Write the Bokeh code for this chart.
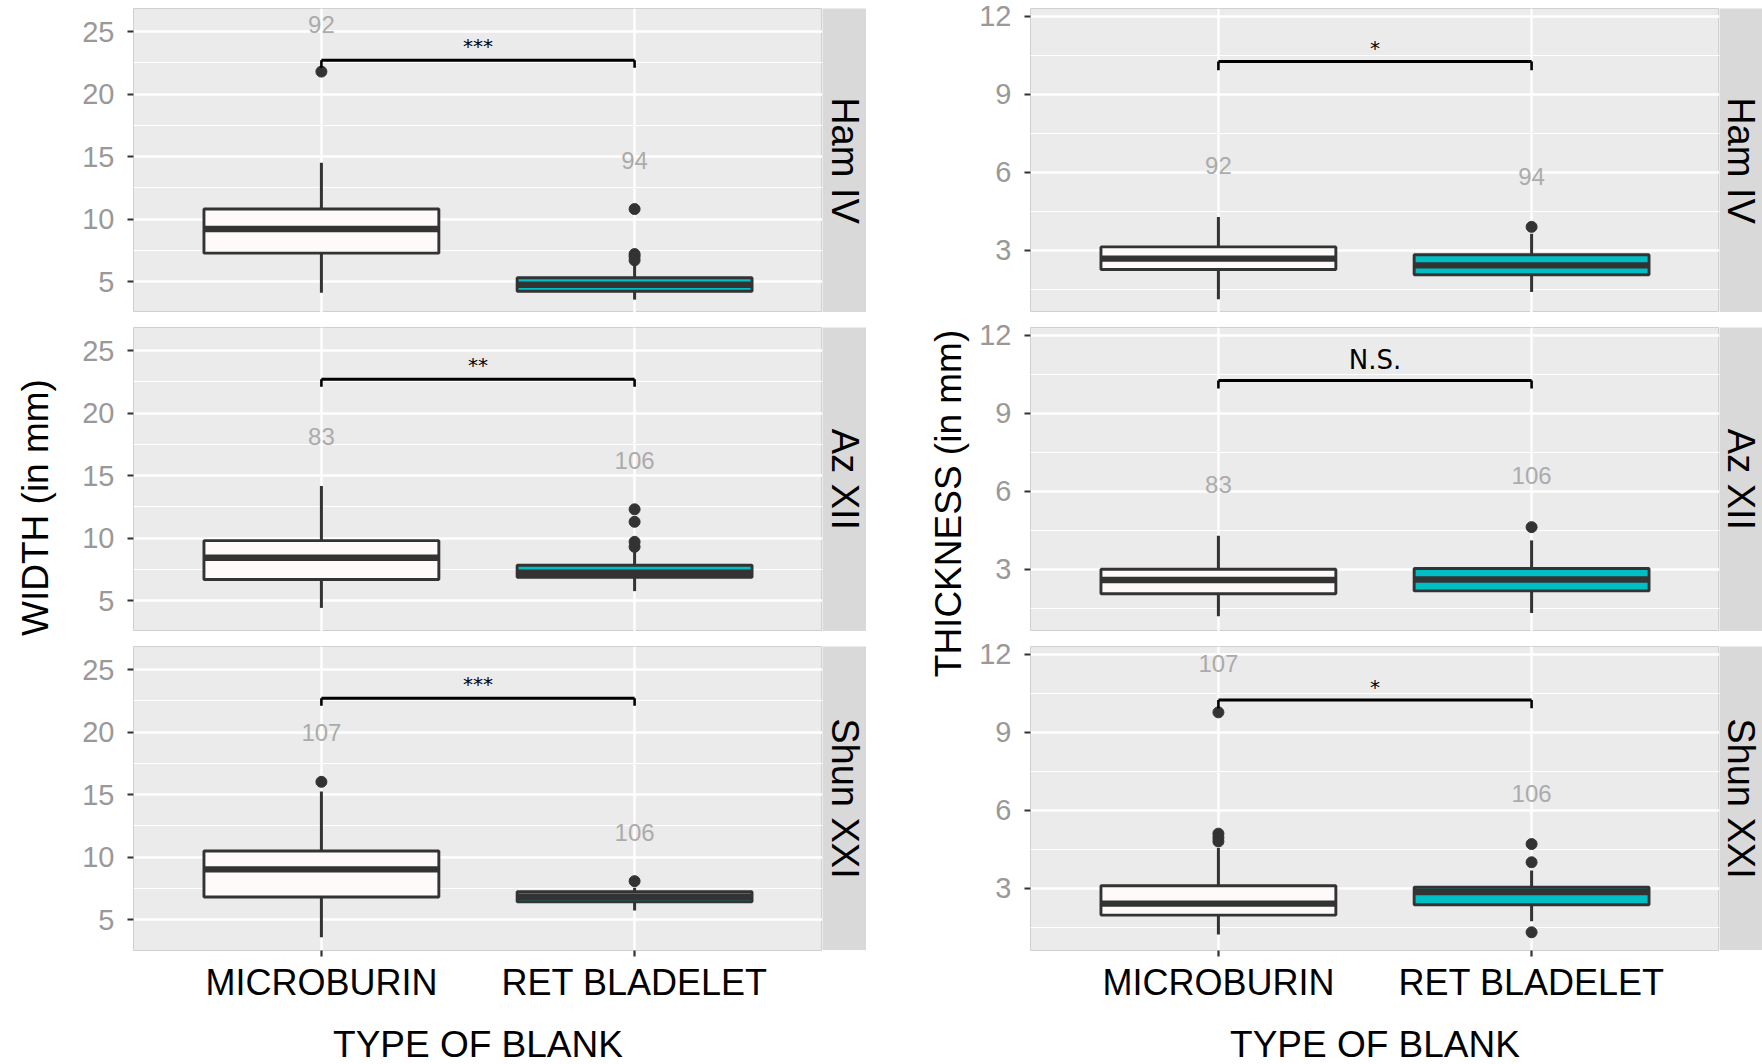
from math import pi
from bokeh.plotting import figure
from bokeh.models import ColumnDataSource, Range1d, FactorRange, FixedTicker, Label
from bokeh.transform import dodge
from bokeh.layouts import row, column
from bokeh.core.properties import value
from bokeh.embed import file_html
from bokeh.resources import INLINE

CATEGORIES = ["MICROBURIN", "RET BLADELET"]
SITES = ["Ham IV", "Az XII", "Shun XXI"]
FILLS = ["#FFFAFA", "#00BFC4"]

# ---- WIDTH (in mm) ----
W_LOWER = [[4.10, 3.55], [4.41, 5.75], [3.58, 5.72]]
W_Q1 = [[7.27, 4.22], [6.68, 6.86], [6.80, 6.42]]
W_MEDIAN = [[9.20, 4.74], [8.42, 7.22], [9.01, 6.80]]
W_Q3 = [[10.80, 5.30], [9.79, 7.82], [10.48, 7.22]]
W_UPPER = [[14.50, 6.40], [14.17, 8.90], [15.24, 7.54]]
W_OUTLIERS = [[[21.8], [10.8, 7.2, 7.0, 6.7]],
              [[], [12.3, 11.3, 9.7, 9.3]],
              [[16.02], [8.07]]]
W_N = [[92, 94], [83, 106], [107, 106]]
W_N_Y = [[25.6, 14.7], [18.1, 16.2], [19.94, 11.94]]
W_SIGNIF = ["***", "**", "***"]
W_BRACKET = [22.7, 22.7, 22.7]
W_BRACKET_END = [22.1, 22.1, 22.1]
W_SIGNIF_Y = [23.85, 23.85, 23.85]
W_TICKS = [5, 10, 15, 20, 25]
W_MINOR = [7.5, 12.5, 17.5, 22.5]
W_RANGE = (2.52, 26.85)

# ---- THICKNESS (in mm) ----
T_LOWER = [[1.12, 1.40], [1.20, 1.32], [1.22, 1.73]]
T_Q1 = [[2.26, 2.06], [2.06, 2.17], [1.97, 2.37]]
T_MEDIAN = [[2.68, 2.42], [2.59, 2.61], [2.41, 2.86]]
T_Q3 = [[3.13, 2.83], [3.00, 3.03], [3.10, 3.04]]
T_UPPER = [[4.28, 3.64], [4.29, 4.11], [4.55, 3.68]]
T_OUTLIERS = [[[], [3.9]],
              [[], [4.62]],
              [[9.76, 5.1, 4.95, 4.8], [4.7, 4.0, 1.31]]]
T_N = [[92, 94], [83, 106], [107, 106]]
T_N_Y = [[6.26, 5.85], [6.27, 6.59], [11.63, 6.64]]
T_SIGNIF = ["*", "N.S.", "*"]
T_BRACKET = [10.25, 10.25, 10.23]
T_BRACKET_END = [9.92, 9.95, 9.92]
T_SIGNIF_Y = [10.76, 11.04, 10.75]
T_TICKS = [3, 6, 9, 12]
T_MINOR = [1.5, 4.5, 7.5, 10.5]
T_RANGE = (0.61, 12.29)

WIDTH = dict(lower=W_LOWER, q1=W_Q1, med=W_MEDIAN, q3=W_Q3, upper=W_UPPER,
             out=W_OUTLIERS, n=W_N, ny=W_N_Y, sig=W_SIGNIF, br=W_BRACKET,
             bre=W_BRACKET_END, sigy=W_SIGNIF_Y, ticks=W_TICKS, minor=W_MINOR,
             rng=W_RANGE, title="WIDTH (in mm)")
THICK = dict(lower=T_LOWER, q1=T_Q1, med=T_MEDIAN, q3=T_Q3, upper=T_UPPER,
             out=T_OUTLIERS, n=T_N, ny=T_N_Y, sig=T_SIGNIF, br=T_BRACKET,
             bre=T_BRACKET_END, sigy=T_SIGNIF_Y, ticks=T_TICKS, minor=T_MINOR,
             rng=T_RANGE, title="THICKNESS (in mm)")

FRAME_W = 689
FRAME_H = 304
TOP_PAD = 8
SPACING = 7
DARK = "#333333"
FONT = "Liberation Sans"


def make_panel(d, i, left_border, show_x):
    xr = FactorRange(factors=CATEGORIES, range_padding=0.1)
    yr = Range1d(*d["rng"])
    p = figure(x_range=xr, y_range=yr, frame_width=FRAME_W, frame_height=FRAME_H,
               min_border_left=left_border, min_border_right=0,
               min_border_top=TOP_PAD, min_border_bottom=0,
               toolbar_location=None, output_backend="svg", title=None)
    p.background_fill_color = "#EBEBEB"
    p.border_fill_color = "white"
    p.outline_line_color = "#D0D0D0"
    p.outline_line_width = 1

    p.xgrid.grid_line_color = "white"
    p.xgrid.grid_line_width = 2.4
    p.ygrid.grid_line_color = "white"
    p.ygrid.grid_line_width = 2.4
    p.ygrid.minor_grid_line_color = "white"
    p.ygrid.minor_grid_line_width = 1.2

    p.yaxis.ticker = FixedTicker(ticks=d["ticks"], minor_ticks=d["minor"])
    for ax in (p.yaxis, p.xaxis):
        ax.axis_line_color = None
        ax.major_tick_line_color = DARK
        ax.major_tick_line_width = 2.2
        ax.major_tick_out = 6
        ax.major_tick_in = 0
        ax.minor_tick_line_color = None
    p.yaxis.major_label_text_font = FONT
    p.yaxis.major_label_text_font_size = "29px"
    p.yaxis.major_label_text_color = "#999999"
    p.yaxis.major_label_standoff = 13

    if show_x:
        p.xaxis.major_label_text_font = FONT
        p.xaxis.major_label_text_font_size = "36px"
        p.xaxis.major_label_text_color = "black"
        p.xaxis.major_label_standoff = 5
        p.xaxis.axis_label = "TYPE OF BLANK"
        p.xaxis.axis_label_text_font = FONT
        p.xaxis.axis_label_text_font_size = "37px"
        p.xaxis.axis_label_text_font_style = "normal"
        p.xaxis.axis_label_text_color = "black"
        p.xaxis.axis_label_standoff = 18
    else:
        p.xaxis.visible = False

    src = ColumnDataSource(dict(
        x=CATEGORIES, lower=d["lower"][i], q1=d["q1"][i], med=d["med"][i],
        q3=d["q3"][i], upper=d["upper"][i], fill=FILLS,
        n=[str(v) for v in d["n"][i]], ny=d["ny"][i],
        br=[d["br"][i]] * 2, bre=[d["bre"][i]] * 2))

    p.segment(x0="x", y0="q3", x1="x", y1="upper", line_color=DARK, line_width=3, source=src)
    p.segment(x0="x", y0="lower", x1="x", y1="q1", line_color=DARK, line_width=3, source=src)
    p.vbar(x="x", width=0.75, bottom="q1", top="q3", fill_color="fill",
           line_color=DARK, line_width=2.9, source=src)
    p.segment(x0=dodge("x", -0.375, range=xr), x1=dodge("x", 0.375, range=xr),
              y0="med", y1="med", line_color=DARK, line_width=6.4, source=src)

    ox, oy = [], []
    for c, vals in zip(CATEGORIES, d["out"][i]):
        for v in vals:
            ox.append(c)
            oy.append(v)
    if ox:
        p.scatter(x=ox, y=oy, size=11, color=DARK)

    p.text(x="x", y="ny", text="n", text_color="#ABABAB", text_font=value(FONT),
           text_font_size="24px", text_align="center", text_baseline="middle", source=src)

    # significance bracket
    p.segment(x0=[CATEGORIES[0]], x1=[CATEGORIES[1]], y0=[d["br"][i]], y1=[d["br"][i]],
              line_color="black", line_width=3)
    p.segment(x0="x", x1="x", y0="br", y1="bre", line_color="black", line_width=2.6, source=src)
    sig = d["sig"][i]
    sig_src = ColumnDataSource(dict(x=[CATEGORIES[0]], y=[d["sigy"][i]], t=[sig]))
    p.text(x=dodge("x", 0.5, range=xr), y="y", text="t", text_color="black",
           text_font=value("DejaVu Sans"),
           text_font_size="26px" if sig == "N.S." else "20px",
           text_align="center", text_baseline="alphabetic", source=sig_src)
    return p


def make_strip(text, w):
    s = figure(frame_width=w, frame_height=FRAME_H, x_range=Range1d(0, 1),
               y_range=Range1d(0, 1), min_border=0, min_border_top=TOP_PAD,
               toolbar_location=None, output_backend="svg", title=None)
    s.axis.visible = False
    s.grid.visible = False
    s.background_fill_color = "#D9D9D9"
    s.border_fill_color = "white"
    s.outline_line_color = None
    s.add_layout(Label(x=w / 2, y=FRAME_H / 2, x_units="screen", y_units="screen",
                       text=text, angle=-pi / 2, text_align="center",
                       text_baseline="middle", text_font=FONT,
                       text_font_size="38px", text_color="black"))
    return s


def make_title(text, w, h, cx, cy_from_bottom):
    t = figure(frame_width=w, frame_height=h, x_range=Range1d(0, 1),
               y_range=Range1d(0, 1), min_border=0, toolbar_location=None,
               output_backend="svg", title=None)
    t.axis.visible = False
    t.grid.visible = False
    t.background_fill_color = "white"
    t.border_fill_color = "white"
    t.outline_line_color = None
    t.add_layout(Label(x=cx, y=cy_from_bottom, x_units="screen", y_units="screen",
                       text=text, angle=pi / 2, text_align="center",
                       text_baseline="middle", text_font=FONT,
                       text_font_size="37px", text_color="black"))
    return t


TITLE_H = 3 * (TOP_PAD + FRAME_H) + 2 * SPACING  # 950

left_rows, right_rows = [], []
for i, site in enumerate(SITES):
    left_rows.append(row(make_panel(WIDTH, i, 63, i == 2), make_strip(site, 44)))
    right_rows.append(row(make_panel(THICK, i, 54, i == 2), make_strip(site, 43)))

left_block = row(make_title(WIDTH["title"], 70, TITLE_H, 35, TITLE_H - 507),
                 column(*left_rows, spacing=SPACING))
right_block = row(make_title(THICK["title"], 110, TITLE_H, 82, TITLE_H - 503),
                  column(*right_rows, spacing=SPACING))
layout = row(left_block, right_block)

open("out.html", "w").write(file_html(layout, INLINE))
